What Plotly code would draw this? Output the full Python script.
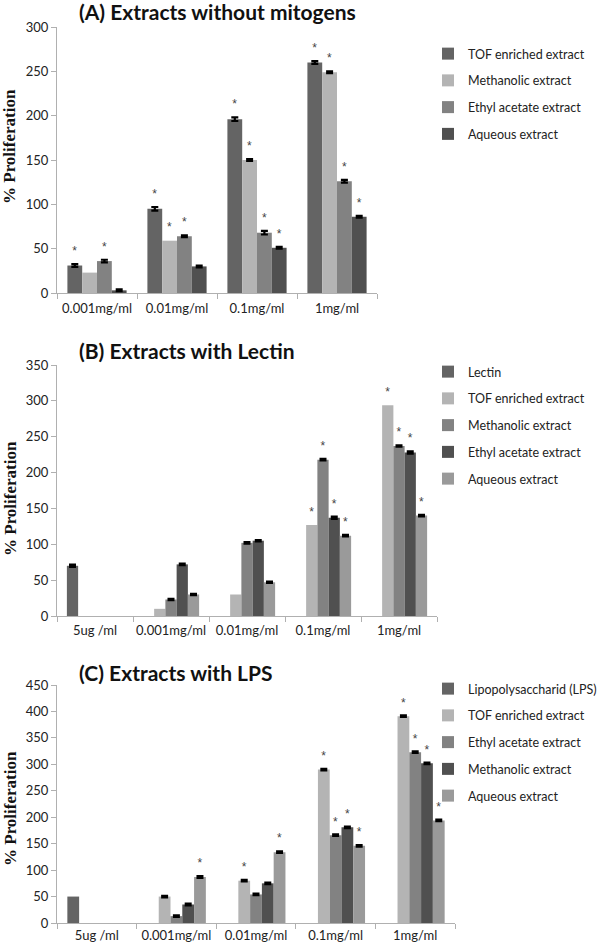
import plotly.graph_objects as go

# ---------------- data ----------------
cats_a = ["0.001mg/ml", "0.01mg/ml", "0.1mg/ml", "1mg/ml"]
a_tof = [31, 95, 196, 260]
a_meth = [23, 59, 150, 249]
a_ethyl = [36, 64, 68, 126]
a_aq = [3, 30, 51, 86]
a_tof_err = [1.5, 2, 2, 1.5]
a_meth_err = [None, None, 1, 1]
a_ethyl_err = [1.5, 1, 2, 1.5]
a_aq_err = [1, 1, 1, 1]
a_tof_sig = [1, 1, 1, 1]
a_meth_sig = [0, 1, 1, 1]
a_ethyl_sig = [1, 1, 1, 1]
a_aq_sig = [0, 0, 1, 1]

cats_b = ["5ug /ml", "0.001mg/ml", "0.01mg/ml", "0.1mg/ml", "1mg/ml"]
b_lectin = [70, None, None, None, None]
b_tof = [None, 10, 30, 127, 294]
b_meth = [None, 23, 102, 218, 237]
b_ethyl = [None, 72, 105, 137, 228]
b_aq = [None, 30, 47, 112, 140]
b_lectin_err = [1.5, None, None, None, None]
b_tof_err = [None, None, None, None, None]
b_meth_err = [None, 1, 1, 1, 1]
b_ethyl_err = [None, 1, 1, 1.5, 1.5]
b_aq_err = [None, 1, 1, 1, 1]
b_lectin_sig = [0, 0, 0, 0, 0]
b_tof_sig = [0, 0, 0, 1, 1]
b_meth_sig = [0, 0, 0, 1, 1]
b_ethyl_sig = [0, 0, 0, 1, 1]
b_aq_sig = [0, 0, 0, 1, 1]

cats_c = ["5ug /ml", "0.001mg/ml", "0.01mg/ml", "0.1mg/ml", "1mg/ml"]
c_lps = [50, None, None, None, None]
c_tof = [None, 50, 80, 290, 391]
c_ethyl = [None, 13, 54, 166, 323]
c_meth = [None, 35, 75, 181, 302]
c_aq = [None, 87, 134, 146, 194]
c_lps_err = [None, None, None, None, None]
c_tof_err = [None, 1.5, 1.5, 1.5, 1.5]
c_ethyl_err = [None, 1.5, 1.5, 1.5, 1.5]
c_meth_err = [None, 1.5, 1.5, 1.5, 1.5]
c_aq_err = [None, 1.5, 1.5, 1.5, 1.5]
c_lps_sig = [0, 0, 0, 0, 0]
c_tof_sig = [0, 0, 1, 1, 1]
c_ethyl_sig = [0, 0, 0, 1, 1]
c_meth_sig = [0, 0, 0, 1, 1]
c_aq_sig = [0, 1, 1, 1, 1]

y_max_a, y_max_b, y_max_c = 300, 350, 450

# ---------------- styles ----------------
DARK = "#646464"
LIGHT = "#b4b4b4"
MID = "#828282"
DARKER = "#505050"
MIDLIGHT = "#9a9a9a"
FONT = "Lato"
AXIS_COL = "#b0b0b0"

fig = go.Figure()


def add(name, cats, vals, err, sig, color, xa, ya, legend, ymax):
    grp = name + legend
    # "NaN" (non-numeric) makes plotly.js skip the error bar for that point
    err_arr = [e if e is not None else "NaN" for e in err]
    fig.add_trace(go.Bar(
        name=name, x=cats, y=vals, marker=dict(color=color, line=dict(width=0)),
        error_y=dict(type="data", array=err_arr, visible=True, color="black",
                     thickness=2.2, width=3.5),
        xaxis=xa, yaxis=ya, legend=legend, legendgroup=grp, offsetgroup=grp,
    ))
    # transparent carrier bars holding the significance asterisks
    bases, heights, texts = [], [], []
    for v, e, s in zip(vals, err, sig):
        if v is not None and s:
            bases.append(v + (e or 0))
            heights.append(0.012 * ymax)
            texts.append("*")
        else:
            bases.append(None)
            heights.append(None)
            texts.append("")
    fig.add_trace(go.Bar(
        x=cats, y=heights, base=bases, marker=dict(color="rgba(0,0,0,0)", line=dict(width=0)),
        text=texts, textposition="outside",
        textfont=dict(family="Liberation Sans", size=12, color="#444444"),
        constraintext="none", cliponaxis=False, showlegend=False, hoverinfo="skip",
        xaxis=xa, yaxis=ya, legend=legend, legendgroup=grp, offsetgroup=grp,
    ))


add("TOF enriched extract", cats_a, a_tof, a_tof_err, a_tof_sig, DARK, "x", "y", "legend", y_max_a)
add("Methanolic extract", cats_a, a_meth, a_meth_err, a_meth_sig, LIGHT, "x", "y", "legend", y_max_a)
add("Ethyl acetate extract", cats_a, a_ethyl, a_ethyl_err, a_ethyl_sig, MID, "x", "y", "legend", y_max_a)
add("Aqueous extract", cats_a, a_aq, a_aq_err, a_aq_sig, DARKER, "x", "y", "legend", y_max_a)

add("Lectin", cats_b, b_lectin, b_lectin_err, b_lectin_sig, DARK, "x2", "y2", "legend2", y_max_b)
add("TOF enriched extract", cats_b, b_tof, b_tof_err, b_tof_sig, LIGHT, "x2", "y2", "legend2", y_max_b)
add("Methanolic extract", cats_b, b_meth, b_meth_err, b_meth_sig, MID, "x2", "y2", "legend2", y_max_b)
add("Ethyl acetate extract", cats_b, b_ethyl, b_ethyl_err, b_ethyl_sig, DARKER, "x2", "y2", "legend2", y_max_b)
add("Aqueous extract", cats_b, b_aq, b_aq_err, b_aq_sig, MIDLIGHT, "x2", "y2", "legend2", y_max_b)

add("Lipopolysaccharid (LPS)", cats_c, c_lps, c_lps_err, c_lps_sig, DARK, "x3", "y3", "legend3", y_max_c)
add("TOF enriched extract", cats_c, c_tof, c_tof_err, c_tof_sig, LIGHT, "x3", "y3", "legend3", y_max_c)
add("Ethyl acetate extract", cats_c, c_ethyl, c_ethyl_err, c_ethyl_sig, MID, "x3", "y3", "legend3", y_max_c)
add("Methanolic extract", cats_c, c_meth, c_meth_err, c_meth_sig, DARKER, "x3", "y3", "legend3", y_max_c)
add("Aqueous extract", cats_c, c_aq, c_aq_err, c_aq_sig, MIDLIGHT, "x3", "y3", "legend3", y_max_c)

W, H = 600, 944


def px_x(p):
    return p / W


def px_y(p):
    return 1 - p / H


xcommon = dict(type="category", showline=True, linecolor=AXIS_COL, linewidth=1,
               ticks="outside", tickson="boundaries", ticklen=5, tickcolor=AXIS_COL,
               showgrid=False, tickangle=0, automargin=False,
               tickfont=dict(family=FONT, size=13, color="#222222"))
ycommon = dict(showline=True, linecolor=AXIS_COL, linewidth=1, ticks="outside",
               ticklen=5, tickcolor=AXIS_COL, showgrid=False, zeroline=False,
               automargin=False,
               tickfont=dict(family=FONT, size=13, color="#222222"))

legcommon = dict(font=dict(family=FONT, size=12.5, color="#222222"), xanchor="left",
                 yanchor="top", tracegroupgap=7.5, bgcolor="rgba(0,0,0,0)",
                 itemclick=False)

fig.update_layout(
    width=W, height=H, margin=dict(l=0, r=0, t=0, b=0, autoexpand=False),
    paper_bgcolor="white", plot_bgcolor="white",
    barmode="group", bargap=0.26, bargroupgap=0,
    showlegend=True,
    xaxis=dict(xcommon, domain=[px_x(57), px_x(377)], anchor="y", ticklabelstandoff=3),
    yaxis=dict(ycommon, domain=[px_y(293), px_y(27)], range=[0, y_max_a], dtick=50, anchor="x"),
    xaxis2=dict(xcommon, domain=[px_x(57), px_x(437)], anchor="y2", ticklabelstandoff=2),
    yaxis2=dict(ycommon, domain=[px_y(616), px_y(365)], range=[0, y_max_b], dtick=50, anchor="x2"),
    xaxis3=dict(xcommon, domain=[px_x(57), px_x(455)], anchor="y3"),
    yaxis3=dict(ycommon, domain=[px_y(923), px_y(685)], range=[0, y_max_c], dtick=50, anchor="x3"),
    legend=dict(legcommon, x=px_x(428), y=px_y(39)),
    legend2=dict(legcommon, x=px_x(428), y=px_y(357)),
    legend3=dict(legcommon, x=px_x(428), y=px_y(674)),
)

titles = [("(A) Extracts without mitogens", 12), ("(B) Extracts with Lectin", 350),
          ("(C) Extracts with LPS", 672)]
for t, yy in titles:
    fig.add_annotation(text="<b>" + t + "</b>", xref="paper", yref="paper",
                       x=px_x(77), y=px_y(yy), xanchor="left", yanchor="middle",
                       showarrow=False, font=dict(family=FONT, size=21, color="#111111"))

ylabels = [147, 499, 809]
for yy in ylabels:
    fig.add_annotation(text="<b>% Proliferation</b>", xref="paper", yref="paper",
                       x=px_x(10), y=px_y(yy), xanchor="center", yanchor="middle",
                       textangle=-90, showarrow=False,
                       font=dict(family="Liberation Serif", size=17, color="#111111"))

fig.write_html("out.html", config={"displayModeBar": False},
               post_script="document.body.style.margin='0';document.body.style.overflow='hidden';")
